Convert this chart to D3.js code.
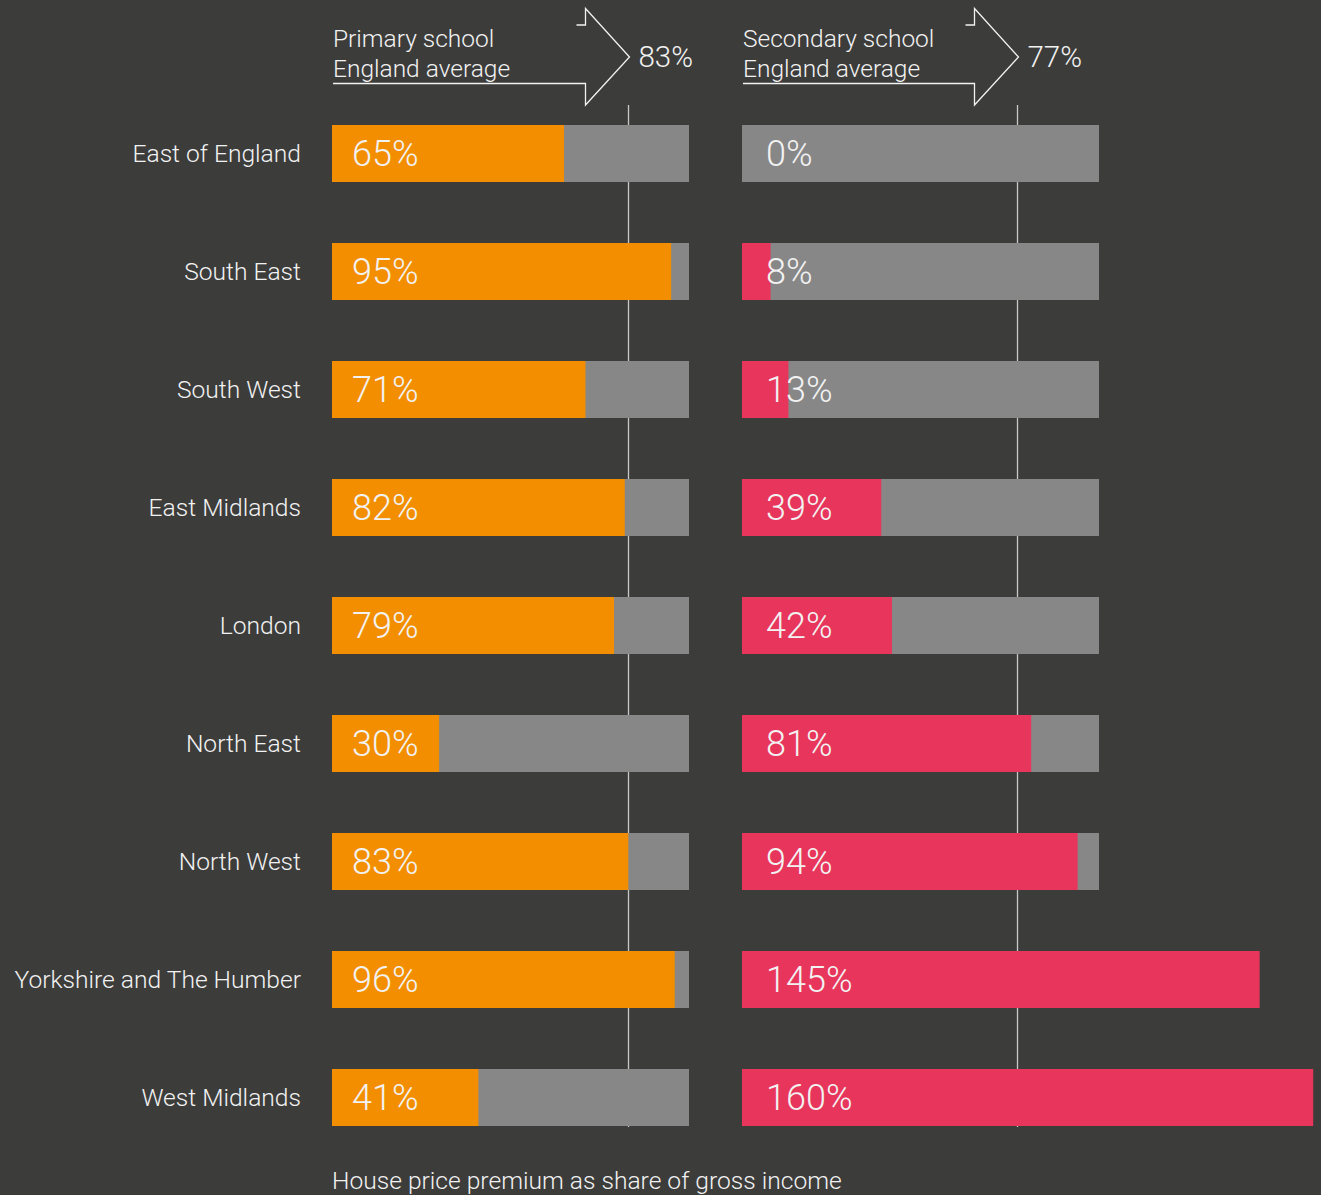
<!DOCTYPE html>
<html>
<head>
<meta charset="utf-8">
<script src="https://cdn.jsdelivr.net/npm/d3@7"></script>
<style>
  body { margin: 0; background: #3c3c3b; }
  text { font-family: Roboto, "Liberation Sans", sans-serif; font-weight: 300; fill: #f2f2f2; }
</style>
</head>
<body>
<div id="chart"></div>
<script>
// Data
var regions = ["East of England", "South East", "South West", "East Midlands", "London",
    "North East", "North West", "Yorkshire and The Humber", "West Midlands"];
var primary = [65, 95, 71, 82, 79, 30, 83, 96, 41];
var secondary = [0, 8, 13, 39, 42, 81, 94, 145, 160];
var primaryAverage = 83;
var secondaryAverage = 77;

var svgWidth = 1321;
var svgHeight = 1195;

var svg = d3.select("#chart")
    .append("svg")
    .attr("width", svgWidth)
    .attr("height", svgHeight);

// Scales
var y = d3.scaleBand()
    .domain(regions)
    .range([94.5, 1156.5])
    .paddingInner(61 / 118)
    .paddingOuter(61 / 236);

var xPrimary = d3.scaleLinear().domain([0, 100]).range([332, 689]);
var xSecondary = d3.scaleLinear().domain([0, 100]).range([742, 1099]);

var panels = [
    {title: "Primary school", values: primary, avg: primaryAverage, x: xPrimary, color: "#f28e00", labelDx: 20},
    {title: "Secondary school", values: secondary, avg: secondaryAverage, x: xSecondary, color: "#e8355b", labelDx: 24}
];

panels.forEach(function(p) {
    var g = svg.append("g");
    var ax = Math.round(p.x(p.avg)) + 0.5;

    // average line (behind bars)
    g.append("line")
        .attr("x1", ax).attr("x2", ax)
        .attr("y1", 105).attr("y2", 1127)
        .attr("stroke", "#c8c8c8")
        .attr("stroke-width", 1.3);

    // gray background bars (100%)
    g.selectAll(".bg")
        .data(regions)
        .enter()
        .append("rect")
        .attr("x", p.x(0))
        .attr("y", d => y(d))
        .attr("width", p.x(100) - p.x(0))
        .attr("height", y.bandwidth())
        .attr("fill", "#878787");

    // value bars
    g.selectAll(".val")
        .data(p.values)
        .enter()
        .append("rect")
        .attr("x", p.x(0))
        .attr("y", (d, i) => y(regions[i]))
        .attr("width", d => p.x(d) - p.x(0))
        .attr("height", y.bandwidth())
        .attr("fill", p.color);

    // value labels
    g.selectAll(".lbl")
        .data(p.values)
        .enter()
        .append("text")
        .attr("x", p.x(0) + p.labelDx)
        .attr("y", (d, i) => y(regions[i]) + y.bandwidth() / 2 + 12)
        .style("font-size", "36px")
        .text(d => d + "%");

    // header arrow
    var x0 = p.x(0) + 1;
    var tip = ax + 1;
    var back = tip - 44;
    g.append("path")
        .attr("d", `M${x0},83.5 H${back} V105 L${tip},57 L${back},8.5 V25 H${back - 9}`)
        .attr("fill", "none")
        .attr("stroke", "#f2f2f2")
        .attr("stroke-width", 1.3);

    g.append("text")
        .attr("x", x0)
        .attr("y", 47)
        .style("font-size", "24.5px")
        .text(p.title);

    g.append("text")
        .attr("x", x0)
        .attr("y", 77)
        .style("font-size", "24.5px")
        .text("England average");

    g.append("text")
        .attr("x", tip + 9)
        .attr("y", 67)
        .style("font-size", "29.5px")
        .text(p.avg + "%");
});

// region labels
svg.selectAll(".region")
    .data(regions)
    .enter()
    .append("text")
    .attr("x", 301)
    .attr("y", d => y(d) + y.bandwidth() / 2 + 8)
    .attr("text-anchor", "end")
    .style("font-size", "24.6px")
    .text(d => d);

// axis title
svg.append("text")
    .attr("x", 332)
    .attr("y", 1189)
    .style("font-size", "24.6px")
    .text("House price premium as share of gross income");
</script>
</body>
</html>
